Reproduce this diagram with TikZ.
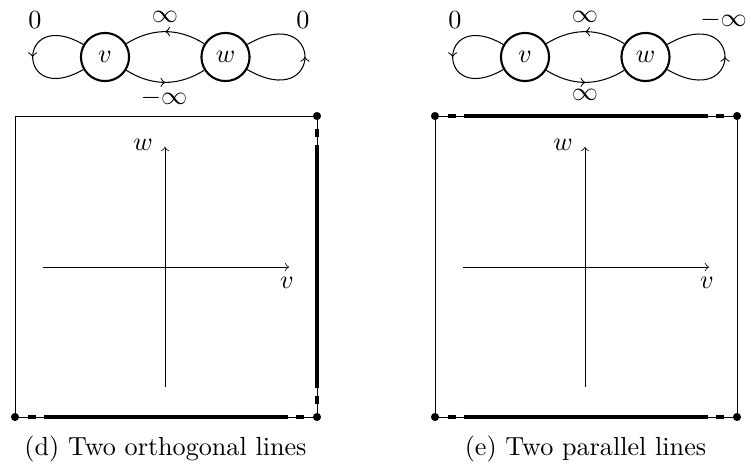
\documentclass[tikz,border=0pt]{standalone}
\usetikzlibrary{decorations.markings}
\begin{document}
\begin{tikzpicture}[x=0.3824pt,y=0.3824pt,
  state/.style={circle,draw,thick,minimum size=18.4pt,inner sep=0pt},
  midarrow/.style={postaction={decorate},decoration={markings,mark=at position 0.5 with {\arrow{>}}}},
  thinline/.style={line width=0.3pt},
  heavy/.style={line width=1.5pt},
  dotnode/.style={circle,fill,inner sep=0pt,minimum size=3.1pt},
  lbl/.style={inner sep=0pt}]
\useasboundingbox (0,0) rectangle (751,470);

% ---------- left panel (d) ----------
\draw[thinline] (15,354) rectangle (317,53);
\draw[heavy] (317,325) -- (317,82);
\draw[heavy] (317,341) -- (317,333);
\draw[heavy] (317,74) -- (317,66);
\draw[heavy] (44,53) -- (288,53);
\draw[heavy] (28,53) -- (36,53);
\draw[heavy] (296,53) -- (304,53);
\node[dotnode] (dTRa) at (317,354) {};
\node[dotnode] (dBLa) at (15,53) {};
\node[dotnode] (dBRa) at (317,53) {};
\draw[thinline,->] (43,203) -- (289,203);
\draw[thinline,->] (165,83) -- (165,323);
\node[lbl] (lva) at (287,187) {$v$};
\node[lbl] (lwa) at (143,325) {$w$};

\node[state] (v1) at (105,413) {$v$};
\node[state] (w1) at (225.5,413) {$w$};
\draw[midarrow] (v1.150) to[out=150,in=210,distance=29.8pt] (v1.210);
\draw[midarrow] (w1.330) to[out=330,in=30,distance=34pt] (w1.30);
\draw[midarrow] (w1) to[bend right=32] (v1);
\draw[midarrow] (v1) to[bend right=32] (w1);
\node[lbl] (zla) at (35,450) {$0$};
\node[lbl] (ita) at (165,453) {$\infty$};
\node[lbl] (zra) at (303,450) {$0$};
\node[lbl] (iba) at (164,372) {$-\infty$};
\node[lbl] (capd) at (165.5,21) {(d) Two orthogonal lines};

% ---------- right panel (e) ----------
\draw[thinline] (435,354) rectangle (737,53);
\draw[heavy] (464,354) -- (708,354);
\draw[heavy] (448,354) -- (456,354);
\draw[heavy] (716,354) -- (724,354);
\draw[heavy] (464,53) -- (708,53);
\draw[heavy] (448,53) -- (456,53);
\draw[heavy] (716,53) -- (724,53);
\node[dotnode] (dTLb) at (435,354) {};
\node[dotnode] (dTRb) at (737,354) {};
\node[dotnode] (dBLb) at (435,53) {};
\node[dotnode] (dBRb) at (737,53) {};
\draw[thinline,->] (463,203) -- (709,203);
\draw[thinline,->] (585,83) -- (585,323);
\node[lbl] (lvb) at (707,187) {$v$};
\node[lbl] (lwb) at (563,325) {$w$};

\node[state] (v2) at (525,413) {$v$};
\node[state] (w2) at (645.5,413) {$w$};
\draw[midarrow] (v2.150) to[out=150,in=210,distance=29.8pt] (v2.210);
\draw[midarrow] (w2.330) to[out=330,in=30,distance=34pt] (w2.30);
\draw[midarrow] (w2) to[bend right=32] (v2);
\draw[midarrow] (v2) to[bend right=32] (w2);
\node[lbl] (zlb) at (455,450) {$0$};
\node[lbl] (itb) at (585,453) {$\infty$};
\node[lbl] (zrb) at (723.5,450) {$-\infty$};
\node[lbl] (ibb) at (585,375) {$\infty$};
\node[lbl] (cape) at (585.5,21) {(e) Two parallel lines};
\end{tikzpicture}
\end{document}
